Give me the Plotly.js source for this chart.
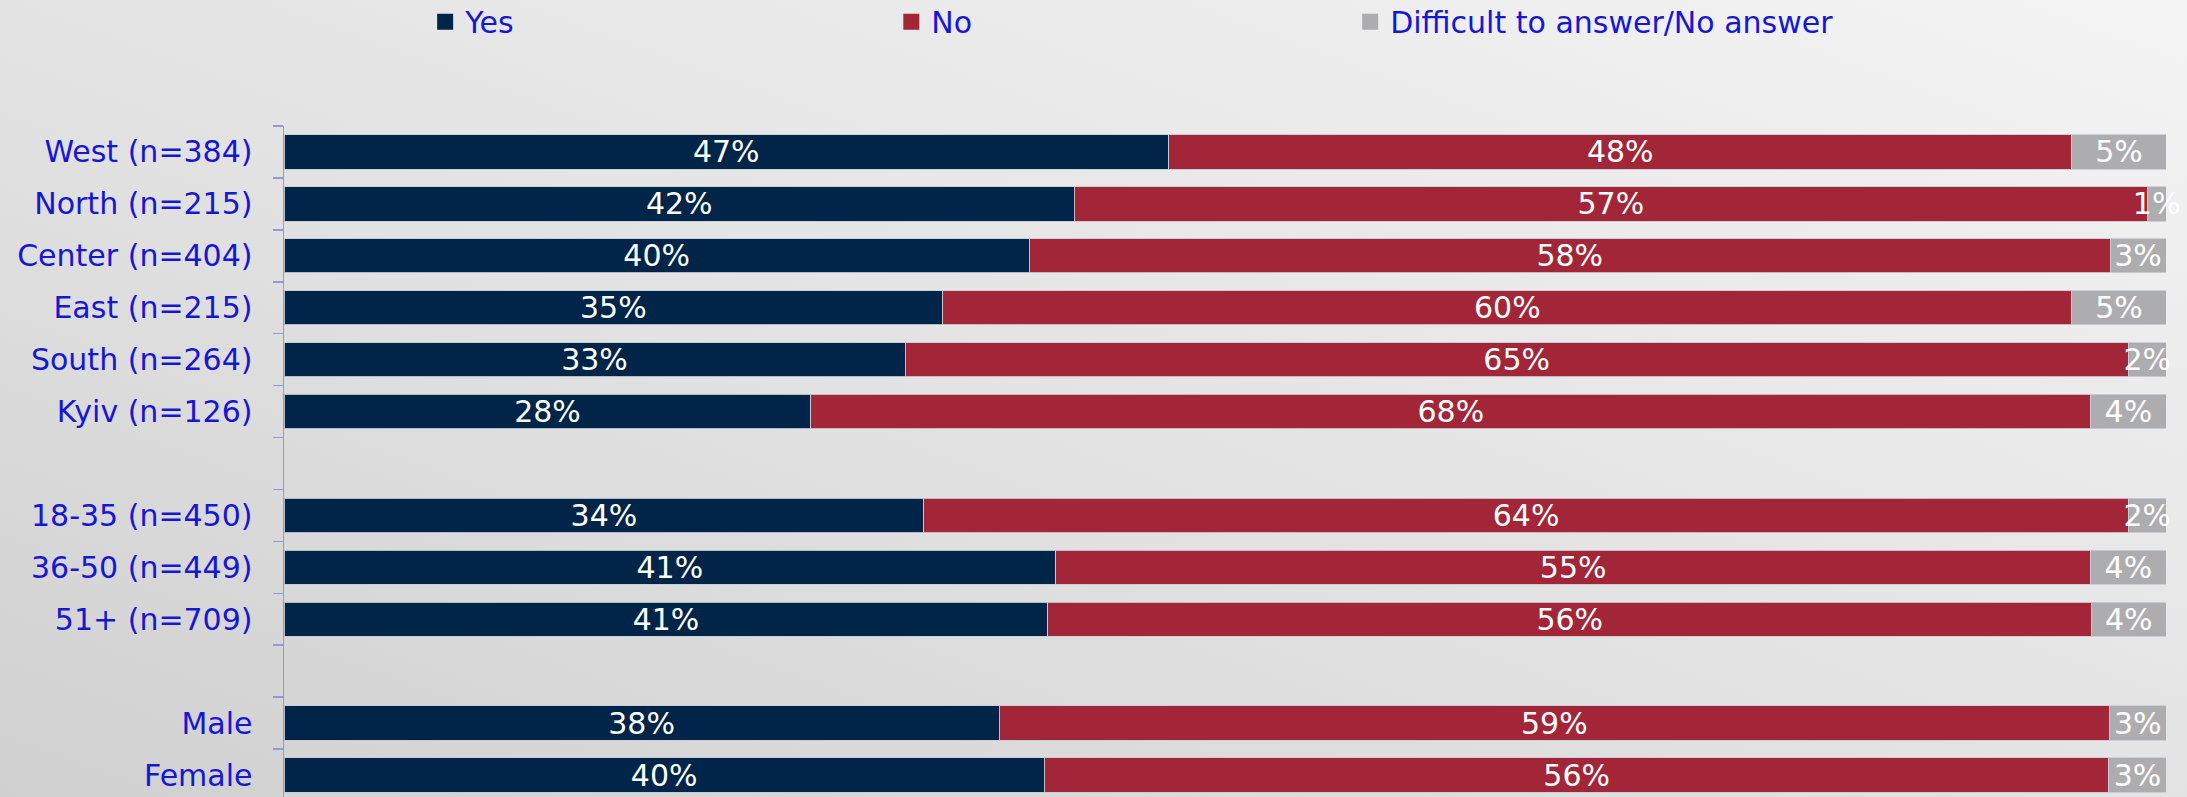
<!DOCTYPE html>
<html>
<head>
<meta charset="utf-8">
<script src="https://cdn.plot.ly/plotly-3.0.1.min.js"></script>
<style>
  html, body { margin: 0; padding: 0; }
  body { width: 2187px; height: 797px; overflow: hidden;
         background: linear-gradient(to top right, #d0d0d0 0%, #e2e2e2 45%, #f4f4f4 100%); }
  #chart { width: 2187px; height: 801px; }
</style>
</head>
<body>
<div id="chart"></div>
<script>
// Categories (top to bottom); blank entries are the spacer rows
const categories = [
  'West (n=384)', 'North (n=215)', 'Center (n=404)', 'East (n=215)', 'South (n=264)', 'Kyiv (n=126)',
  ' ',
  '18-35 (n=450)', '36-50 (n=449)', '51+ (n=709)',
  '  ',
  'Male', 'Female'
];
const groups = [
  'West (n=384)', 'North (n=215)', 'Center (n=404)', 'East (n=215)', 'South (n=264)', 'Kyiv (n=126)',
  '18-35 (n=450)', '36-50 (n=449)', '51+ (n=709)',
  'Male', 'Female'
];
const yesValues = [47, 42, 40, 35, 33, 28, 34, 41, 41, 38, 40];
const noValues  = [48, 57, 58, 60, 65, 68, 64, 55, 56, 59, 56];
const dkValues  = [5, 1, 3, 5, 2, 4, 2, 4, 4, 3, 3];
const seriesNames = ['Yes', 'No', 'Difficult to answer/No answer'];
const seriesColors = ['#012548', '#a32638', '#adadaf'];

const font = 'DejaVu Sans, sans-serif';
const blue = '#1616d6';

function mkBar(name, vals, color) {
  return {
    type: 'bar', orientation: 'h', name: name, showlegend: false,
    y: groups, x: vals,
    text: vals.map(v => v + '%'),
    textposition: 'inside', insidetextanchor: 'middle',
    textangle: 0, constraintext: 'none', cliponaxis: false,
    textfont: { family: font, size: 30, color: '#ffffff' },
    marker: { color: color, line: { color: 'rgba(200,204,214,0.9)', width: 1 } },
    hoverinfo: 'name+x'
  };
}
// legend-only entries (square swatches), one legend each
function mkKey(name, color, legendId) {
  return {
    type: 'scatter', mode: 'markers', name: name, legend: legendId,
    x: [null], y: [null],
    marker: { symbol: 'square', size: 17, color: color },
    hoverinfo: 'skip'
  };
}

const data = [
  mkBar(seriesNames[0], yesValues, seriesColors[0]),
  mkBar(seriesNames[1], noValues, seriesColors[1]),
  mkBar(seriesNames[2], dkValues, seriesColors[2]),
  mkKey(seriesNames[0], seriesColors[0], 'legend'),
  mkKey(seriesNames[1], seriesColors[1], 'legend2'),
  mkKey(seriesNames[2], seriesColors[2], 'legend3')
];

function legendAt(xPos) {
  return {
    orientation: 'h', x: xPos, xanchor: 'left', y: 1.193, yanchor: 'top',
    font: { family: font, size: 30, color: blue },
    bgcolor: 'rgba(0,0,0,0)'
  };
}

const layout = {
  width: 2187, height: 801,
  paper_bgcolor: 'rgba(0,0,0,0)', plot_bgcolor: 'rgba(0,0,0,0)',
  margin: { l: 284, r: 21, t: 126, b: 0, pad: 0, autoexpand: false },
  barmode: 'stack', barnorm: 'percent', bargap: 0.34,
  showlegend: true,
  legend: legendAt(0.075),
  legend2: legendAt(0.3227),
  legend3: legendAt(0.5665),
  xaxis: { visible: false, range: [0, 100], fixedrange: true },
  yaxis: {
    type: 'category', categoryorder: 'array', categoryarray: categories,
    range: [categories.length - 0.5, -0.5],
    showline: true, linecolor: '#9494e2', linewidth: 1.5,
    ticks: 'outside', tickson: 'boundaries', ticklen: 10, tickcolor: '#9494e2', tickwidth: 1.5,
    ticklabelstandoff: 24,
    tickfont: { family: font, size: 30, color: blue },
    showgrid: false, zeroline: false, fixedrange: true
  },
  font: { family: font }
};

Plotly.newPlot('chart', data, layout, { displayModeBar: false, staticPlot: true });
</script>
</body>
</html>
